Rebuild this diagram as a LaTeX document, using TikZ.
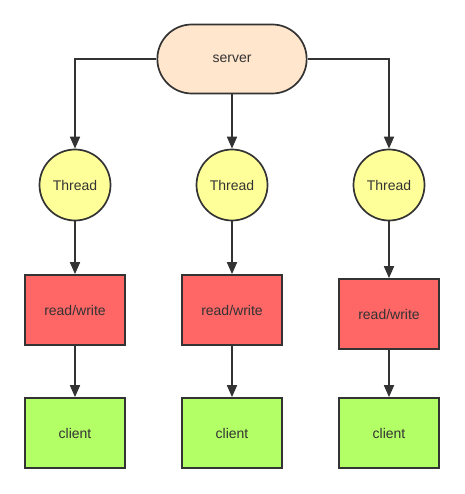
\documentclass[tikz,border=0pt]{standalone}
\usepackage{fontspec}
\setmainfont{Liberation Sans}
\usetikzlibrary{arrows.meta,shapes.misc}
\definecolor{linha}{HTML}{333333}
\definecolor{servidor}{HTML}{FFE6CC}
\definecolor{fio}{HTML}{FFFF99}
\definecolor{leitura}{HTML}{FF6666}
\definecolor{cliente}{HTML}{B3FF66}
\begin{document}
\begin{tikzpicture}[x=1pt,y=-1pt,font=\fontsize{14}{16}\selectfont,
  caixa/.style={draw=linha,line width=1.7pt,text=linha,minimum width=100pt,minimum height=70pt},
  seta/.style={draw=linha,line width=1.7pt,-{Triangle[length=12pt,width=10pt]}}]
  \useasboundingbox (0,0) rectangle (464,494);
  % servidor no topo
  \node[caixa,rounded rectangle,fill=servidor,minimum width=156pt,minimum height=69pt] (srv) at (232,59) {server};
  % uma coluna por thread: x do centro e deslocamento da coluna da direita
  \foreach \i/\x/\dy in {1/75/0, 2/232/0, 3/389/4} {
    \node[caixa,circle,fill=fio,minimum size=71pt] (th\i) at (\x,185) {Thread};
    \node[caixa,fill=leitura] (rw\i) at (\x,{310+\dy}) {read/write};
    \node[caixa,fill=cliente] (cl\i) at (\x,433) {client};
    \draw[seta] (th\i) -- (rw\i);
    \draw[seta] (rw\i) -- (cl\i);
  }
  % ligações do servidor
  \draw[seta] (srv.west) -| (th1.north);
  \draw[seta] (srv.south) -- (th2.north);
  \draw[seta] (srv.east) -| (th3.north);
\end{tikzpicture}
\end{document}
